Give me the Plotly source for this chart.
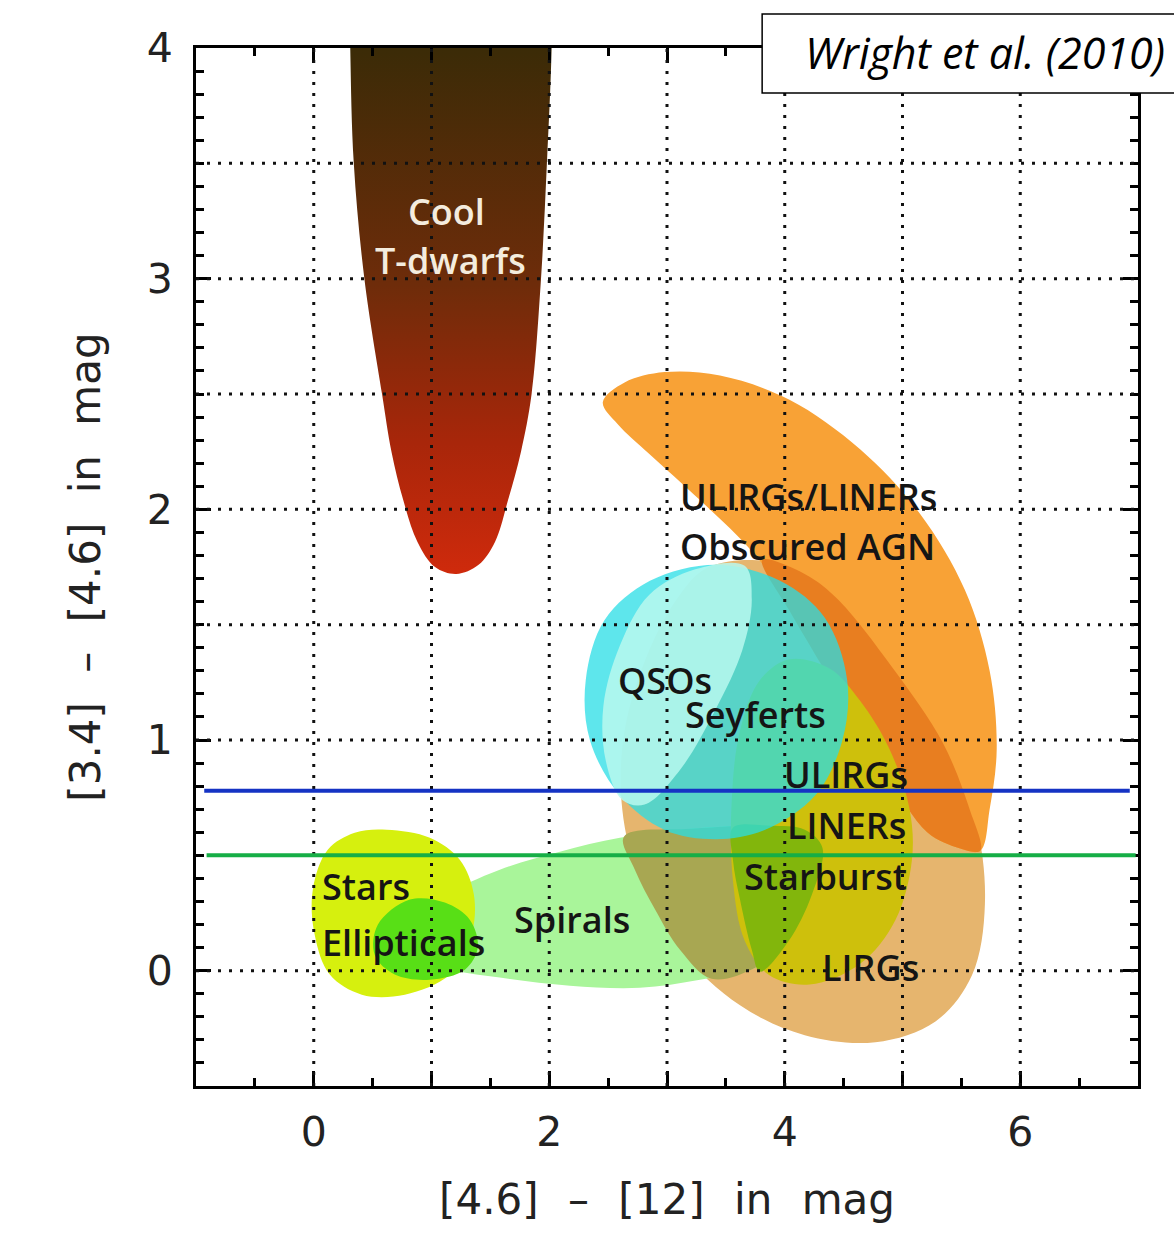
import plotly.graph_objects as go

# ---------------- chart data ----------------
x_range = [-1, 7]
y_range = [-0.5, 4]
x_tick_vals = [-1, 0, 1, 2, 3, 4, 5, 6, 7]
x_tick_text = ["", "0", "", "2", "", "4", "", "6", ""]
y_tick_vals = [0, 1, 2, 3, 4]
y_tick_text = ["0", "1", "2", "3", "4"]
x_grid = [0, 1, 2, 3, 4, 5, 6]
y_grid = [0, 1, 1.5, 2, 2.5, 3, 3.5]

# colour-colour cuts
cut_blue_y = 0.78
cut_blue_x = [-0.93, 6.93]
cut_green_y = 0.5
cut_green_x = [-0.91, 6.98]

# region outlines ([4.6]-[12], [3.4]-[4.6])
tdwarf_x = [0.30, 0.31, 0.34, 0.43, 0.58, 0.66, 0.76, 0.88, 1.03, 1.21, 1.40, 1.54, 1.65, 1.76, 1.85, 1.93, 1.98, 2.02, 2.03]
tdwarf_y = [4.60, 4.00, 3.50, 3.00, 2.50, 2.25, 2.04, 1.86, 1.75, 1.72, 1.76, 1.86, 2.04, 2.25, 2.50, 3.00, 3.50, 4.00, 4.60]

lirg_x = [3.66, 4.04, 4.43, 4.92, 5.32, 5.62, 5.70, 5.59, 5.28, 4.77, 4.17, 3.62, 3.11, 2.77, 2.62, 2.64, 2.85, 3.11, 3.32]
lirg_y = [1.78, 1.755, 1.63, 1.35, 1.02, 0.65, 0.29, -0.02, -0.22, -0.31, -0.28, -0.15, 0.09, 0.39, 0.70, 1.04, 1.39, 1.63, 1.74]

agn_x = [2.455, 2.64, 2.98, 3.45, 4.04, 4.64, 5.15, 5.53, 5.74, 5.80, 5.74, 5.66, 5.49, 5.21, 4.87, 4.55, 4.26, 4.00, 3.70, 3.28, 2.85, 2.58]
agn_y = [2.465, 2.55, 2.595, 2.58, 2.475, 2.26, 1.98, 1.65, 1.30, 0.96, 0.70, 0.52, 0.53, 0.60, 0.85, 1.13, 1.37, 1.63, 1.83, 2.04, 2.24, 2.37]

agn_lirg_x = [3.81, 4.13, 4.43, 4.92, 5.34, 5.57, 5.66, 5.49, 5.21, 4.87, 4.55, 4.26, 4.04]
agn_lirg_y = [1.78, 1.73, 1.62, 1.31, 0.99, 0.70, 0.52, 0.53, 0.60, 0.85, 1.13, 1.37, 1.56]

spiral_x = [0.646, 1.07, 1.58, 2.09, 2.60, 3.195, 3.79, 4.17, 4.32, 4.23, 4.03, 3.75, 3.28, 2.77, 2.175, 1.58, 1.07, 0.73]
spiral_y = [0.156, 0.316, 0.438, 0.516, 0.576, 0.615, 0.628, 0.611, 0.533, 0.329, 0.126, 0.013, -0.039, -0.074, -0.065, -0.030, 0.013, 0.069]

spiral_lirg_x = [2.634, 3.195, 3.79, 4.17, 4.32, 4.23, 4.03, 3.75, 3.38, 3.11, 2.90, 2.727]
spiral_lirg_y = [0.581, 0.615, 0.628, 0.611, 0.533, 0.329, 0.126, 0.013, -0.035, 0.091, 0.264, 0.438]

starburst_x = [4.04, 4.38, 4.64, 4.89, 5.06, 5.08, 4.94, 4.64, 4.21, 3.87, 3.66, 3.56, 3.55, 3.62, 3.79]
starburst_y = [1.35, 1.31, 1.17, 0.96, 0.70, 0.48, 0.22, 0.03, -0.06, -0.02, 0.13, 0.39, 0.74, 1.04, 1.26]

spiral_starburst_x = [3.56, 3.874, 4.17, 4.32, 4.23, 4.03, 3.79, 3.72, 3.62, 3.56]
spiral_starburst_y = [0.620, 0.628, 0.611, 0.533, 0.329, 0.126, -0.004, 0.091, 0.308, 0.481]

qso_x = [3.415, 3.96, 4.34, 4.53, 4.49, 4.26, 3.83, 3.415, 2.98, 2.60, 2.345, 2.31, 2.47, 2.855]
qso_y = [1.76, 1.69, 1.53, 1.26, 1.00, 0.76, 0.61, 0.57, 0.61, 0.76, 1.00, 1.26, 1.52, 1.69]

seyfert_x = [3.66, 3.72, 3.64, 3.41, 3.11, 2.81, 2.62, 2.48, 2.46, 2.60, 2.85, 3.24]
seyfert_y = [1.755, 1.61, 1.39, 1.13, 0.87, 0.72, 0.74, 0.91, 1.15, 1.41, 1.63, 1.74]

stars_x = [0.62, 0.986, 1.24, 1.36, 1.34, 1.155, 0.773, 0.408, 0.136, 0.008, -0.008, 0.119, 0.348]
stars_y = [0.611, 0.576, 0.481, 0.329, 0.156, -0.017, -0.104, -0.104, -0.017, 0.156, 0.351, 0.524, 0.598]

ellip_x = [0.816, 1.113, 1.325, 1.393, 1.283, 0.986, 0.688, 0.518, 0.544]
ellip_y = [0.308, 0.295, 0.221, 0.100, 0.004, -0.039, -0.017, 0.069, 0.199]

region_labels = ["Cool", "T-dwarfs", "ULIRGs/LINERs", "Obscured AGN", "QSOs", "Seyferts",
                 "ULIRGs", "LINERs", "Starburst", "LIRGs", "Stars", "Ellipticals", "Spirals"]

SP = "\u2002\u2009"
x_title = "[4.6]" + SP + "\u2013" + SP + "[12]" + SP + "in" + SP + "mag"
y_title = "[3.4]" + SP + "\u2013" + SP + "[4.6]" + SP + "in" + SP + "mag"
credit = "Wright et al. (2010)"

# ---------------- figure ----------------
fig = go.Figure()


def closed(xs, ys):
    return list(xs) + [xs[0]], list(ys) + [ys[0]]


def region(xs, ys, color):
    cx, cy = closed(xs, ys)
    fig.add_trace(go.Scatter(x=cx, y=cy, mode="lines", fill="toself", fillcolor=color,
                             line=dict(width=0, shape="spline", smoothing=1.0),
                             hoverinfo="skip", showlegend=False))


# T-dwarfs with vertical gradient
fig.add_trace(go.Scatter(
    x=tdwarf_x, y=tdwarf_y, mode="lines", fill="toself",
    line=dict(width=0, shape="spline", smoothing=1.0),
    fillgradient=dict(type="vertical", start=1.72, stop=4.0,
                      colorscale=[[0, "#cf2a0c"], [0.25, "#a8260a"], [0.55, "#6e2c0a"], [1, "#3b2b07"]]),
    hoverinfo="skip", showlegend=False))

region(lirg_x, lirg_y, "#E6B56E")
region(agn_x, agn_y, "#F8A236")
region(agn_lirg_x, agn_lirg_y, "#E87E20")
region(spiral_x, spiral_y, "#A9F59A")
region(spiral_lirg_x, spiral_lirg_y, "#A8A752")
region(starburst_x, starburst_y, "#CEC00C")
region(spiral_starburst_x, spiral_starburst_y, "#82B60C")
region(qso_x, qso_y, "rgba(40,222,230,0.75)")
region(seyfert_x, seyfert_y, "rgba(185,248,238,0.85)")
region(stars_x, stars_y, "#D6F00E")
region(ellip_x, ellip_y, "#58DF16")

# dotted grid (drawn above the coloured regions)
shapes = []
for xv in x_grid:
    shapes.append(dict(type="line", xref="x", yref="y", x0=xv, x1=xv, y0=y_range[0], y1=y_range[1],
                       line=dict(color="#111", width=3, dash="3px,8px"), layer="above"))
for yv in y_grid:
    shapes.append(dict(type="line", xref="x", yref="y", x0=x_range[0], x1=x_range[1], y0=yv, y1=yv,
                       line=dict(color="#111", width=3, dash="3px,8px"), layer="above"))
shapes.append(dict(type="line", xref="x", yref="y", x0=cut_blue_x[0], x1=cut_blue_x[1],
                   y0=cut_blue_y, y1=cut_blue_y, line=dict(color="#1533C4", width=4), layer="above"))
shapes.append(dict(type="line", xref="x", yref="y", x0=cut_green_x[0], x1=cut_green_x[1],
                   y0=cut_green_y, y1=cut_green_y, line=dict(color="#16AE46", width=4), layer="above"))
# credit box
shapes.append(dict(type="rect", xref="paper", yref="paper", x0=0.601, x1=1.2, y0=0.9566, y1=1.0328,
                   fillcolor="white", line=dict(color="black", width=1.5), layer="above"))
fig.update_layout(shapes=shapes)

# region labels
label_pos = [
    (1.13, 3.29, "center"), (1.16, 3.08, "center"), (3.09, 2.054, "left"), (3.09, 1.84, "left"),
    (2.57, 1.26, "left"), (3.14, 1.11, "left"), (3.98, 0.85, "left"), (4.00, 0.63, "left"),
    (3.64, 0.41, "left"), (4.30, 0.013, "left"), (0.05, 0.364, "left"), (0.05, 0.121, "left"),
    (1.68, 0.221, "left"),
]
annotations = []
for i, (txt, (lx, ly, anc)) in enumerate(zip(region_labels, label_pos)):
    col = "#F4ECDE" if i < 2 else "#151515"
    annotations.append(dict(x=lx, y=ly, xref="x", yref="y", text=txt, showarrow=False,
                            xanchor=anc, yanchor="middle",
                            font=dict(family="Open Sans", size=36, color=col, weight=600)))
annotations.append(dict(x=0.6444, y=0.9952, xref="paper", yref="paper", text="<i>" + credit + "</i>",
                        showarrow=False, xanchor="left", yanchor="middle",
                        font=dict(family="Open Sans", size=43, color="black")))
fig.update_layout(annotations=annotations)

axis_common = dict(showline=True, linecolor="black", linewidth=3, mirror="allticks",
                   ticks="inside", ticklen=15, tickwidth=3, tickcolor="black",
                   showgrid=False, zeroline=False,
                   tickfont=dict(family="DejaVu Sans", size=41, color="#222"))

fig.update_xaxes(range=x_range, tickmode="array", tickvals=x_tick_vals, ticktext=x_tick_text,
                 minor=dict(tickmode="linear", tick0=0, dtick=0.5, ticks="inside", ticklen=8,
                            tickwidth=2.5, tickcolor="black", showgrid=False),
                 ticklabelstandoff=8,
                 title=dict(text=x_title, font=dict(family="DejaVu Sans", size=42, color="#222"), standoff=30),
                 **axis_common)
fig.update_yaxes(range=y_range, tickmode="array", tickvals=y_tick_vals, ticktext=y_tick_text,
                 minor=dict(tickmode="linear", tick0=0, dtick=0.1, ticks="inside", ticklen=8,
                            tickwidth=2.5, tickcolor="black", showgrid=False),
                 ticklabelstandoff=12,
                 title=dict(text=y_title, font=dict(family="DejaVu Sans", size=42, color="#222"), standoff=34),
                 **axis_common)

fig.update_layout(width=1174, height=1245, margin=dict(l=196, r=36, t=48, b=159),
                  plot_bgcolor="white", paper_bgcolor="white", showlegend=False)

fig.write_html("out.html")
